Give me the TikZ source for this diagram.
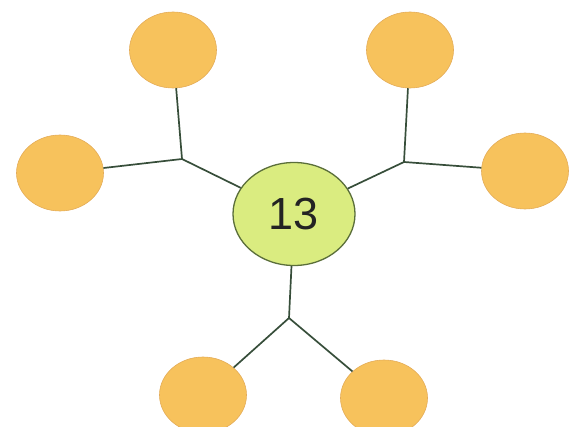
\documentclass[tikz,border=0pt]{standalone}
\usepackage{fontspec}
\setmainfont{Liberation Sans}
\usetikzlibrary{shapes.geometric}
\definecolor{orfill}{RGB}{247,194,92}
\definecolor{oredge}{RGB}{228,172,88}
\definecolor{grfill}{RGB}{218,236,128}
\definecolor{gredge}{RGB}{90,110,58}
\definecolor{linec}{RGB}{55,78,58}
\definecolor{txtc}{RGB}{35,35,35}
\tikzset{
  leaf/.style={ellipse, fill=orfill, draw=oredge, line width=0.6pt, minimum width=87pt, minimum height=76pt, inner sep=0pt},
  hub/.style={ellipse, fill=grfill, draw=gredge, line width=1.3pt, minimum width=122pt, minimum height=103pt, inner sep=0pt, text=txtc, font=\fontsize{45}{50}\selectfont},
  conn/.style={draw=linec, line width=1.7pt}
}
\begin{document}
\begin{tikzpicture}[x=1pt,y=1pt]
\useasboundingbox (0,0) rectangle (572,-427);
\node[hub] (C) at (294,-214) {13};
\node[leaf] (TL) at (173,-50) {};
\node[leaf] (L) at (60,-173) {};
\node[leaf] (TR) at (410,-50) {};
\node[leaf] (R) at (525,-171) {};
\node[leaf] (BL) at (203,-395) {};
\node[leaf] (BR) at (384,-398) {};
\coordinate (J1) at (182,-159);
\coordinate (J2) at (404,-162);
\coordinate (J3) at (289,-318);
\draw[conn] (TL) -- (J1);
\draw[conn] (L) -- (J1);
\draw[conn] (J1) -- (C);
\draw[conn] (TR) -- (J2);
\draw[conn] (R) -- (J2);
\draw[conn] (J2) -- (C);
\draw[conn] (C) -- (J3);
\draw[conn] (J3) -- (BL);
\draw[conn] (J3) -- (BR);
\end{tikzpicture}
\end{document}
